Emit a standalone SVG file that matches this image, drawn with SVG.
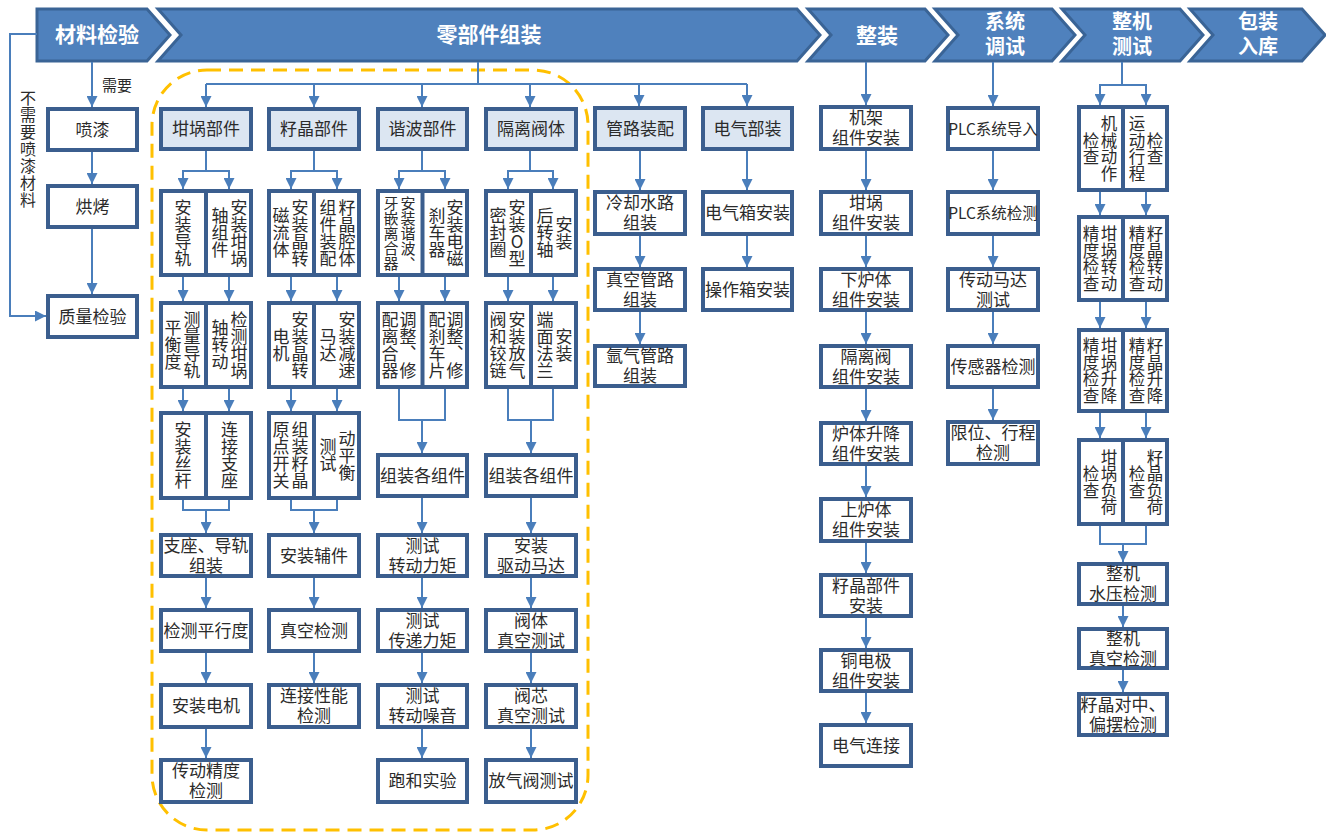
<svg xmlns="http://www.w3.org/2000/svg" width="1326" height="834" viewBox="0 0 1326 834">
<defs>
<style>
.chev{fill:#4F81BD;stroke:#3A6496;stroke-width:3}
.box{fill:#fff;stroke:#3B5E8E;stroke-width:4}
.hbox{fill:#DCE6F2;stroke:#3B5E8E;stroke-width:4}
.div{stroke:#3B5E8E;stroke-width:4}
.ln{fill:none;stroke:#4A7EBB;stroke-width:2}
.ar{fill:none;stroke:#4A7EBB;stroke-width:2;marker-end:url(#ah)}
text{font-family:"Noto Sans CJK SC","Noto Sans",sans-serif;fill:#2b2b2b;text-anchor:middle;font-size:17px}
.h{fill:#fff;font-weight:bold;font-size:21px}
.h2{fill:#fff;font-weight:bold;font-size:20px}
.v{writing-mode:vertical-rl;text-orientation:upright;font-size:17px}
.vs{writing-mode:vertical-rl;text-orientation:upright;font-size:15px}
.vz{writing-mode:vertical-rl;text-orientation:upright;font-size:16.5px}
.lab{font-size:15px}
.lv{writing-mode:vertical-rl;text-orientation:upright;font-size:16px;letter-spacing:1px}
</style>
<marker id="ah" markerWidth="11" markerHeight="11" refX="11" refY="5.5" orient="auto" markerUnits="userSpaceOnUse">
<path d="M0,0 L11,5.5 L0,11 z" fill="#4A7EBB"/>
</marker>
</defs>
<rect width="1326" height="834" fill="#fff"/>

<g id="dashed-region">
<rect x="152" y="70" width="436" height="760" rx="55" ry="55" fill="none" stroke="#FFC000" stroke-width="3" stroke-dasharray="14 8"/>
</g>

<g id="stages">
<g id="stage-material"><polygon class="chev" points="37,9 147,9 170,35 147,61 37,61"/><text class="h" x="97" y="42">材料检验</text></g>
<g id="stage-parts"><polygon class="chev" points="158,9 797,9 820,35 797,61 158,61 181,35"/><text class="h" x="489" y="42">零部件组装</text></g>
<g id="stage-assembly"><polygon class="chev" points="808,9 925,9 948,35 925,61 808,61 831,35"/><text class="h" x="877" y="43">整装</text></g>
<g id="stage-system"><polygon class="chev" points="935,9 1052,9 1075,35 1052,61 935,61 958,35"/><text class="h2" x="1005" y="29">系统</text><text class="h2" x="1005" y="54">调试</text></g>
<g id="stage-test"><polygon class="chev" points="1062,9 1180,9 1203,35 1180,61 1062,61 1085,35"/><text class="h2" x="1132" y="29">整机</text><text class="h2" x="1132" y="54">测试</text></g>
<g id="stage-pack"><polygon class="chev" points="1190,9 1302,9 1325,35 1302,61 1190,61 1213,35"/><text class="h2" x="1258" y="29">包装</text><text class="h2" x="1258" y="54">入库</text></g>
</g>

<g id="connectors">
<path class="ar" d="M92,62 V107"/>
<path class="ar" d="M92,152 V184"/>
<path class="ar" d="M92,229 V294"/>
<path class="ar" d="M37,34 H10 V316 H46"/>
<path class="ln" d="M478,62 V84 M206,84 H747"/>
<path class="ar" d="M206,84 V107"/><path class="ar" d="M314,84 V107"/><path class="ar" d="M422,84 V107"/><path class="ar" d="M530,84 V107"/><path class="ar" d="M639,84 V106"/><path class="ar" d="M747,84 V106"/>
<path class="ar" d="M206,151 V171 H183 V189"/><path class="ar" d="M206,171 H229 V189"/>
<path class="ar" d="M183,277 V301"/><path class="ar" d="M229,277 V301"/>
<path class="ar" d="M183,389 V411"/><path class="ar" d="M229,389 V411"/>
<path class="ar" d="M183,500 V510 H206 V533"/><path class="ln" d="M229,500 V510 H206"/>
<path class="ar" d="M206,578 V608"/><path class="ar" d="M206,653 V683"/><path class="ar" d="M206,729 V758"/>
<path class="ar" d="M314,151 V171 H291 V189"/><path class="ar" d="M314,171 H337 V189"/>
<path class="ar" d="M291,277 V301"/><path class="ar" d="M337,277 V301"/>
<path class="ar" d="M291,389 V411"/><path class="ar" d="M337,389 V411"/>
<path class="ar" d="M291,500 V510 H314 V533"/><path class="ln" d="M337,500 V510 H314"/>
<path class="ar" d="M314,578 V608"/><path class="ar" d="M314,653 V683"/>
<path class="ar" d="M422,151 V171 H399 V189"/><path class="ar" d="M422,171 H445 V189"/>
<path class="ar" d="M399,277 V301"/><path class="ar" d="M445,277 V301"/>
<path class="ar" d="M399,389 V420 H422 V453"/><path class="ln" d="M445,389 V420 H422"/>
<path class="ar" d="M422,498 V533"/><path class="ar" d="M422,578 V608"/><path class="ar" d="M422,653 V683"/><path class="ar" d="M422,729 V758"/>
<path class="ar" d="M530,151 V171 H508 V189"/><path class="ar" d="M530,171 H553 V189"/>
<path class="ar" d="M508,277 V301"/><path class="ar" d="M553,277 V301"/>
<path class="ar" d="M508,389 V420 H531 V453"/><path class="ln" d="M553,389 V420 H531"/>
<path class="ar" d="M531,498 V533"/><path class="ar" d="M531,578 V608"/><path class="ar" d="M531,653 V683"/><path class="ar" d="M531,729 V758"/>
<path class="ar" d="M640,151 V190"/><path class="ar" d="M640,236 V267"/><path class="ar" d="M640,312 V344"/>
<path class="ar" d="M747,151 V190"/><path class="ar" d="M747,236 V267"/>
<path class="ar" d="M866,62 V105"/>
<path class="ar" d="M866,151 V190"/><path class="ar" d="M866,236 V267"/><path class="ar" d="M866,312 V344"/><path class="ar" d="M866,389 V421"/><path class="ar" d="M866,466 V497"/><path class="ar" d="M866,543 V573"/><path class="ar" d="M866,618 V648"/><path class="ar" d="M866,693 V723"/>
<path class="ar" d="M993,62 V106"/>
<path class="ar" d="M993,151 V190"/><path class="ar" d="M993,236 V267"/><path class="ar" d="M993,312 V344"/><path class="ar" d="M993,389 V420"/>
<path class="ar" d="M1122,62 V85 H1100 V105"/><path class="ar" d="M1122,85 H1146 V105"/>
<path class="ar" d="M1100,192 V215"/><path class="ar" d="M1146,192 V215"/>
<path class="ar" d="M1100,302 V328"/><path class="ar" d="M1146,302 V328"/>
<path class="ar" d="M1100,413 V438"/><path class="ar" d="M1146,413 V438"/>
<path class="ar" d="M1100,526 V544 H1123 V562"/><path class="ln" d="M1146,526 V544 H1123"/>
<path class="ar" d="M1123,606 V627"/><path class="ar" d="M1123,670 V692"/>
</g>

<g id="labels">
<text class="lab" x="117" y="91">需要</text>
<text class="lv" x="28" y="149">不需要喷漆材料</text>
</g>

<g id="n-paint"><rect class="box" x="48" y="109" width="89" height="41"/><text x="92.5" y="135.5">喷漆</text></g>
<g id="n-bake"><rect class="box" x="48" y="186" width="89" height="41"/><text x="92.5" y="212.5">烘烤</text></g>
<g id="n-qc"><rect class="box" x="48" y="296" width="89" height="41"/><text x="92.5" y="322.5">质量检验</text></g>

<g id="n-c1h"><rect class="hbox" x="161" y="109" width="90" height="40"/><text x="206" y="135">坩埚部件</text></g>
<g id="n-c1r1"><rect class="box" x="161" y="191" width="90" height="84"/><line class="div" x1="206" y1="191" x2="206" y2="275"/>
<text class="v" x="183" y="233">安装导轨</text><text class="v" x="239" y="233">安装坩埚</text><text class="v" x="220" y="233">轴组件</text></g>
<g id="n-c1r2"><rect class="box" x="161" y="303" width="90" height="84"/><line class="div" x1="206" y1="303" x2="206" y2="387"/>
<text class="v" x="192" y="345">测量导轨</text><text class="v" x="173" y="345">平衡度</text><text class="v" x="239" y="345">检测坩埚</text><text class="v" x="220" y="345">轴转动</text></g>
<g id="n-c1r3"><rect class="box" x="161" y="413" width="90" height="85"/><line class="div" x1="206" y1="413" x2="206" y2="498"/>
<text class="v" x="183" y="455.5">安装丝杆</text><text class="v" x="229.5" y="455.5">连接支座</text></g>
<g id="n-c1a"><rect class="box" x="161" y="535" width="90" height="41"/><text x="206" y="551.5">支座、导轨</text><text x="206" y="571.5">组装</text></g>
<g id="n-c1b"><rect class="box" x="161" y="610" width="90" height="41"/><text x="206" y="636.5">检测平行度</text></g>
<g id="n-c1c"><rect class="box" x="161" y="685" width="90" height="42"/><text x="206" y="712">安装电机</text></g>
<g id="n-c1d"><rect class="box" x="161" y="760" width="90" height="42"/><text x="206" y="777">传动精度</text><text x="206" y="797">检测</text></g>

<g id="n-c2h"><rect class="hbox" x="269" y="109" width="90" height="40"/><text x="314" y="135">籽晶部件</text></g>
<g id="n-c2r1"><rect class="box" x="269" y="191" width="90" height="84"/><line class="div" x1="314" y1="191" x2="314" y2="275"/>
<text class="v" x="300" y="233">安装晶转</text><text class="v" x="281" y="233">磁流体</text><text class="v" x="347" y="233">籽晶腔体</text><text class="v" x="328" y="233">组件装配</text></g>
<g id="n-c2r2"><rect class="box" x="269" y="303" width="90" height="84"/><line class="div" x1="314" y1="303" x2="314" y2="387"/>
<text class="v" x="300" y="345">安装晶转</text><text class="v" x="281" y="345">电机</text><text class="v" x="347" y="345">安装减速</text><text class="v" x="328" y="345">马达</text></g>
<g id="n-c2r3"><rect class="box" x="269" y="413" width="90" height="85"/><line class="div" x1="314" y1="413" x2="314" y2="498"/>
<text class="v" x="300" y="455.5">组装籽晶</text><text class="v" x="281" y="455.5">原点开关</text><text class="v" x="347" y="455.5">动平衡</text><text class="v" x="328" y="455.5">测试</text></g>
<g id="n-c2a"><rect class="box" x="269" y="535" width="90" height="41"/><text x="314" y="561.5">安装辅件</text></g>
<g id="n-c2b"><rect class="box" x="269" y="610" width="90" height="41"/><text x="314" y="636.5">真空检测</text></g>
<g id="n-c2c"><rect class="box" x="269" y="685" width="90" height="42"/><text x="314" y="702">连接性能</text><text x="314" y="722">检测</text></g>

<g id="n-c3h"><rect class="hbox" x="378" y="109" width="89" height="40"/><text x="422.5" y="135">谐波部件</text></g>
<g id="n-c3r1"><rect class="box" x="378" y="191" width="89" height="84"/><line class="div" x1="422.5" y1="191" x2="422.5" y2="275"/>
<text class="vs" x="408" y="233">安装谐波、</text><text class="vs" x="391" y="233">牙嵌离合器</text><text class="v" x="455" y="233">安装电磁</text><text class="v" x="437" y="233">刹车器</text></g>
<g id="n-c3r2"><rect class="box" x="378" y="303" width="89" height="84"/><line class="div" x1="422.5" y1="303" x2="422.5" y2="387"/>
<text class="v" x="408" y="345">调整、修</text><text class="v" x="390" y="345">配离合器</text><text class="v" x="455" y="345">调整、修</text><text class="v" x="437" y="345">配刹车片</text></g>
<g id="n-c3a"><rect class="box" x="378" y="455" width="89" height="41"/><text x="422.5" y="481.5">组装各组件</text></g>
<g id="n-c3b"><rect class="box" x="378" y="535" width="89" height="41"/><text x="422.5" y="551.5">测试</text><text x="422.5" y="571.5">转动力矩</text></g>
<g id="n-c3c"><rect class="box" x="378" y="610" width="89" height="41"/><text x="422.5" y="626.5">测试</text><text x="422.5" y="646.5">传递力矩</text></g>
<g id="n-c3d"><rect class="box" x="378" y="685" width="89" height="42"/><text x="422.5" y="702">测试</text><text x="422.5" y="722">转动噪音</text></g>
<g id="n-c3e"><rect class="box" x="378" y="760" width="89" height="42"/><text x="422.5" y="787">跑和实验</text></g>

<g id="n-c4h"><rect class="hbox" x="486" y="109" width="90" height="40"/><text x="531" y="135">隔离阀体</text></g>
<g id="n-c4r1"><rect class="box" x="486" y="191" width="90" height="84"/><line class="div" x1="531" y1="191" x2="531" y2="275"/>
<text class="v" x="517" y="233">安装O型</text><text class="v" x="498" y="233">密封圈</text><text class="v" x="564" y="233">安装</text><text class="v" x="545" y="233">后转轴</text></g>
<g id="n-c4r2"><rect class="box" x="486" y="303" width="90" height="84"/><line class="div" x1="531" y1="303" x2="531" y2="387"/>
<text class="v" x="517" y="345">安装放气</text><text class="v" x="498" y="345">阀和铰链</text><text class="v" x="564" y="345">安装</text><text class="v" x="545" y="345">端面法兰</text></g>
<g id="n-c4a"><rect class="box" x="486" y="455" width="90" height="41"/><text x="531" y="481.5">组装各组件</text></g>
<g id="n-c4b"><rect class="box" x="486" y="535" width="90" height="41"/><text x="531" y="551.5">安装</text><text x="531" y="571.5">驱动马达</text></g>
<g id="n-c4c"><rect class="box" x="486" y="610" width="90" height="41"/><text x="531" y="626.5">阀体</text><text x="531" y="646.5">真空测试</text></g>
<g id="n-c4d"><rect class="box" x="486" y="685" width="90" height="42"/><text x="531" y="702">阀芯</text><text x="531" y="722">真空测试</text></g>
<g id="n-c4e"><rect class="box" x="486" y="760" width="90" height="42"/><text x="531" y="787">放气阀测试</text></g>

<g id="n-c5h"><rect class="hbox" x="595" y="108" width="90" height="41"/><text x="640" y="134.5">管路装配</text></g>
<g id="n-c5a"><rect class="box" x="595" y="192" width="90" height="42"/><text x="640" y="209">冷却水路</text><text x="640" y="229">组装</text></g>
<g id="n-c5b"><rect class="box" x="595" y="269" width="90" height="41"/><text x="640" y="285.5">真空管路</text><text x="640" y="305.5">组装</text></g>
<g id="n-c5c"><rect class="box" x="595" y="346" width="90" height="40"/><text x="640" y="362">氩气管路</text><text x="640" y="382">组装</text></g>

<g id="n-c6h"><rect class="hbox" x="703" y="108" width="89" height="41"/><text x="747.5" y="134.5">电气部装</text></g>
<g id="n-c6a"><rect class="box" x="703" y="192" width="89" height="42"/><text x="747.5" y="219">电气箱安装</text></g>
<g id="n-c6b"><rect class="box" x="703" y="269" width="89" height="41"/><text x="747.5" y="295.5">操作箱安装</text></g>

<g id="n-a1"><rect class="box" x="821" y="107" width="90" height="42"/><text x="866" y="124">机架</text><text x="866" y="144">组件安装</text></g>
<g id="n-a2"><rect class="box" x="821" y="192" width="90" height="42"/><text x="866" y="209">坩埚</text><text x="866" y="229">组件安装</text></g>
<g id="n-a3"><rect class="box" x="821" y="269" width="90" height="41"/><text x="866" y="285.5">下炉体</text><text x="866" y="305.5">组件安装</text></g>
<g id="n-a4"><rect class="box" x="821" y="346" width="90" height="41"/><text x="866" y="362.5">隔离阀</text><text x="866" y="382.5">组件安装</text></g>
<g id="n-a5"><rect class="box" x="821" y="423" width="90" height="41"/><text x="866" y="439.5">炉体升降</text><text x="866" y="459.5">组件安装</text></g>
<g id="n-a6"><rect class="box" x="821" y="499" width="90" height="42"/><text x="866" y="516">上炉体</text><text x="866" y="536">组件安装</text></g>
<g id="n-a7"><rect class="box" x="821" y="575" width="90" height="41"/><text x="866" y="591.5">籽晶部件</text><text x="866" y="611.5">安装</text></g>
<g id="n-a8"><rect class="box" x="821" y="650" width="90" height="41"/><text x="866" y="666.5">铜电极</text><text x="866" y="686.5">组件安装</text></g>
<g id="n-a9"><rect class="box" x="821" y="725" width="90" height="41"/><text x="866" y="751.5">电气连接</text></g>

<g id="n-s1"><rect class="box" x="948" y="108" width="90" height="41"/><text x="993" y="134.5" style="font-size:15.5px">PLC系统导入</text></g>
<g id="n-s2"><rect class="box" x="948" y="192" width="90" height="42"/><text x="993" y="219" style="font-size:15.5px">PLC系统检测</text></g>
<g id="n-s3"><rect class="box" x="948" y="269" width="90" height="41"/><text x="993" y="285.5">传动马达</text><text x="993" y="305.5">测试</text></g>
<g id="n-s4"><rect class="box" x="948" y="346" width="90" height="41"/><text x="993" y="372.5">传感器检测</text></g>
<g id="n-s5"><rect class="box" x="948" y="422" width="90" height="42"/><text x="993" y="439">限位、行程</text><text x="993" y="459">检测</text></g>

<g id="n-t1"><rect class="box" x="1079" y="107" width="88" height="83"/><line class="div" x1="1123" y1="107" x2="1123" y2="190"/>
<text class="vz" x="1109" y="148.5">机械动作</text><text class="vz" x="1091" y="148.5">检查</text><text class="vz" x="1155" y="148.5">检查</text><text class="vz" x="1137" y="148.5">运动行程</text></g>
<g id="n-t2"><rect class="box" x="1079" y="217" width="88" height="83"/><line class="div" x1="1123" y1="217" x2="1123" y2="300"/>
<text class="vz" x="1109" y="258.5">坩埚转动</text><text class="vz" x="1091" y="258.5">精度检查</text><text class="vz" x="1155" y="258.5">籽晶转动</text><text class="vz" x="1137" y="258.5">精度检查</text></g>
<g id="n-t3"><rect class="box" x="1079" y="330" width="88" height="81"/><line class="div" x1="1123" y1="330" x2="1123" y2="411"/>
<text class="vz" x="1109" y="370.5">坩埚升降</text><text class="vz" x="1091" y="370.5">精度检查</text><text class="vz" x="1155" y="370.5">籽晶升降</text><text class="vz" x="1137" y="370.5">精度检查</text></g>
<g id="n-t4"><rect class="box" x="1079" y="440" width="88" height="84"/><line class="div" x1="1123" y1="440" x2="1123" y2="524"/>
<text class="vz" x="1109" y="482">坩埚负荷</text><text class="vz" x="1091" y="482">检查</text><text class="vz" x="1155" y="482">籽晶负荷</text><text class="vz" x="1137" y="482">检查</text></g>
<g id="n-t5"><rect class="box" x="1079" y="564" width="88" height="40"/><text x="1123" y="580">整机</text><text x="1123" y="600">水压检测</text></g>
<g id="n-t6"><rect class="box" x="1079" y="629" width="88" height="39"/><text x="1123" y="644.5">整机</text><text x="1123" y="664.5">真空检测</text></g>
<g id="n-t7"><rect class="box" x="1079" y="694" width="88" height="41"/><text x="1123" y="710.5">籽晶对中、</text><text x="1123" y="730.5">偏摆检测</text></g>
</svg>
